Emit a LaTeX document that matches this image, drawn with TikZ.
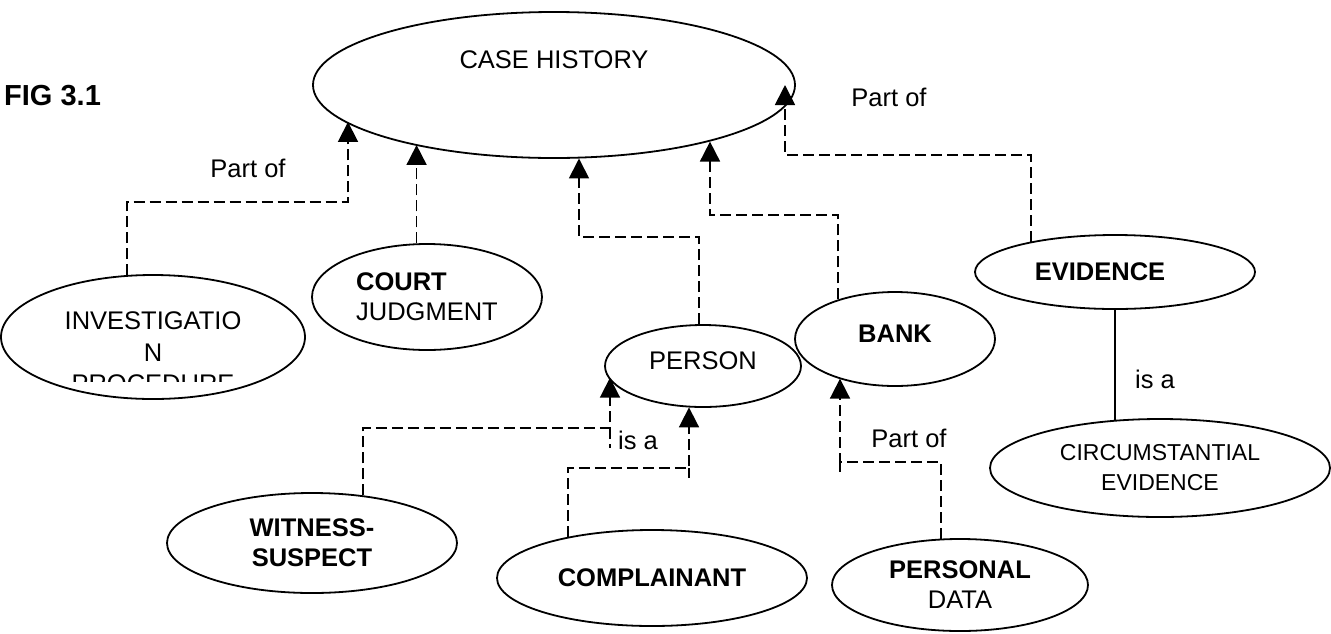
\documentclass[tikz,border=0pt]{standalone}
\usepackage{fontspec}
\setmainfont{Liberation Sans}
\usetikzlibrary{shapes.geometric,arrows.meta}
\begin{document}
\begin{tikzpicture}[x=1pt,y=-1pt,
  ell/.style={draw, ellipse, line width=1.8pt, inner sep=0pt, align=center, font=\fontsize{25.5}{30}\selectfont},
  dep/.style={draw, line width=1.8pt, dash pattern=on 11pt off 5pt},
  arr/.style={dep, -{Triangle[width=20pt,length=20pt]}},
  lbl/.style={font=\fontsize{25.5}{30}\selectfont, inner sep=0pt},
  bfl/.style={font=\bfseries\fontsize{25.5}{30}\selectfont}
]
\useasboundingbox (0,0) rectangle (1331,633);

\node[lbl, font=\bfseries\fontsize{29}{34}\selectfont, anchor=west] (fig) at (4,96) {FIG 3.1};

\node[ell, minimum width=482pt, minimum height=146pt,
      label={[lbl,yshift=25pt]center:CASE HISTORY}] (case) at (554,85) {};
\node[ell, minimum width=304pt, minimum height=124pt, font=\fontsize{25.5}{32}\selectfont] (inv) at (153,337) {INVESTIGATIO\\N};
\node[ell, minimum width=230pt, minimum height=106pt, align=left] (court) at (427,297) {\textbf{COURT}\\JUDGMENT};
\node[ell, minimum width=196pt, minimum height=82pt,
      label={[lbl,yshift=5pt]center:PERSON}] (person) at (703,366) {};
\node[ell, minimum width=200pt, minimum height=94pt,
      label={[lbl,bfl,yshift=5pt]center:BANK}] (bank) at (895,339) {};
\node[ell, minimum width=280pt, minimum height=74pt,
      label={[lbl,bfl,xshift=-15pt]center:EVIDENCE}] (evi) at (1115,272) {};
\node[ell, minimum width=340pt, minimum height=98pt, font=\fontsize{23}{30}\selectfont] (circ) at (1160,468) {CIRCUMSTANTIAL\\EVIDENCE};
\node[ell, bfl, minimum width=290pt, minimum height=100pt] (wit) at (312,543) {WITNESS-\\SUSPECT};
\node[ell, bfl, minimum width=310pt, minimum height=96pt] (comp) at (652,578) {COMPLAINANT};
\node[ell, minimum width=256pt, minimum height=92pt] (pdata) at (960,585) {\textbf{PERSONAL}\\DATA};

\begin{scope}
\clip (0,366) rectangle (320,381);
\node[lbl, anchor=base] (proc) at (153,392) {PROCEDURE};
\end{scope}

\coordinate (b1) at (348,202);
\coordinate (b3) at (579,237);
\coordinate (b4) at (710,215);
\coordinate (b5) at (785,155);
\coordinate (b6) at (610,428);
\coordinate (b7) at (689,468);
\coordinate (b8) at (840,462);
\coordinate (s6) at (610,448);
\coordinate (s7) at (689,478);
\coordinate (s8) at (840,472);

\draw[arr] (inv.113.9) |- (b1) -- (b1 |- case.190.42);
\draw[arr] (court.101.8) -- (court.101.8 |- case.203.45);
\draw[arr] (person.96.97) |- (b3) -- (b3 |- case.289);
\draw[arr] (bank.145.9) |- (b4) -- (b4 |- case.340.4);
\draw[arr] (evi.160.25) |- (b5) -- (b5 |- case.east);
\draw[arr] (wit.43.2) |- (b6) -- (b6 |- person.187.9);
\draw[dep] (b6) -- (s6);
\draw[arr] (comp.154.7) |- (b7) -- (b7 |- person.250.97);
\draw[dep] (b7) -- (s7);
\draw[arr] (pdata.112.2) |- (b8) -- (b8 |- bank.215.55);
\draw[dep] (b8) -- (s8);
\draw[line width=1.8pt] (evi.south) -- (evi.south |- circ.132.2);

\node[lbl] (lp1) at (248,168) {Part of};
\node[lbl] (lp2) at (889,97) {Part of};
\node[lbl] (lp3) at (909,438) {Part of};
\node[lbl] (li1) at (638,440) {is a};
\node[lbl] (li2) at (1155,379) {is a};
\end{tikzpicture}
\end{document}
